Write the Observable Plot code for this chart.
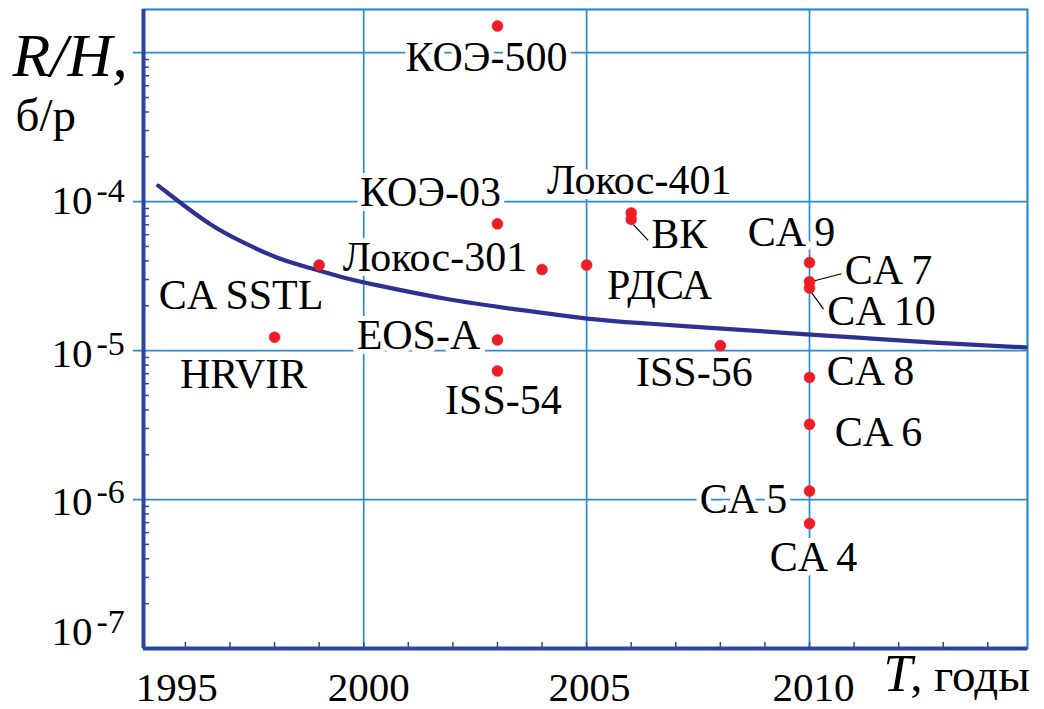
<!DOCTYPE html>
<html><head><meta charset="utf-8">
<script src="https://cdn.jsdelivr.net/npm/d3@7"></script>
<script src="https://cdn.jsdelivr.net/npm/@observablehq/plot@0.6"></script>
<style>
html,body{margin:0;padding:0;background:#fff;}
#chart svg{display:block;}
</style></head><body><div id="chart"></div>
<script>
// ---------- data ----------
const names = ["КОЭ-500","КОЭ-03","Локос-401","ВК","Локос-301","РДСА","EOS-A","ISS-54","CA SSTL","HRVIR","ISS-56","CA 9","CA 7","CA 10","CA 8","CA 6","CA 5","CA 4"];
const years = [2003,2003,2006,2006,2004,2005,2003,2003,1999,1998,2008,2010,2010,2010,2010,2010,2010,2010];
const rhValues = [1.51e-3,7.1e-5,8.4e-5,7.6e-5,3.5e-5,3.75e-5,1.18e-5,7.3e-6,3.75e-5,1.23e-5,1.08e-5,3.9e-5,2.9e-5,2.63e-5,6.6e-6,3.2e-6,1.14e-6,6.9e-7];
const curveYears = [1995.39,1995.80,1996.55,1997.30,1998.05,1998.80,1999.54,2000.37,2001.87,2003.37,2005.01,2006.36,2007.78,2009.05,2010.02,2011.29,2012.79,2014.85];
const curveValues = [1.28e-4,1.03e-4,7.08e-5,5.32e-5,4.22e-5,3.58e-5,3.10e-5,2.72e-5,2.22e-5,1.90e-5,1.64e-5,1.52e-5,1.42e-5,1.34e-5,1.28e-5,1.21e-5,1.13e-5,1.05e-5];
const xTicks = [1995,2000,2005,2010];
const yTickExponents = [-4,-5,-6,-7];
const yGridExponents = [-3,-4,-5,-6];

// ---------- layout ----------
const W = 1044, H = 709;
const M = {top: 9, right: 17, bottom: 61, left: 143};
const X0 = 1995.06, X1 = 2014.89, Y0 = 1e-7, Y1 = 1.95e-3;
const labelDx = [-11,-67,8,48,-107,73,-79,6,-78,-31,-26,-18,79,72,61,69,-66,4];
const labelDy = [45,-18,-19,29,1,34,9,43,44,51,40,-17,2,37,8,22,22,47];
const leaders = [ {i:3, a:[2,5], b:[17,21]}, {i:12, a:[5,-1], b:[32,-8]}, {i:13, a:[1,3], b:[14,21]} ];
const xTickDx = [36,5,3,4];
const yTickDy = [12,16,15,-4];

const gridC = "#2a8ad2", axisC = "#2c46a0", curveC = "#2e3191", dotC = "#ee1c25";
const FF = "Liberation Serif";

// mirror scales (for pixel offsets of annotations)
const sx = d3.scaleLinear([X0, X1], [M.left, W - M.right]);
const sy = d3.scaleLog([Y0, Y1], [H - M.bottom, M.top]);

const pts = names.map((n, i) => ({name: n, year: years[i], v: rhValues[i]}));
const labels = pts.map((p, i) => ({
  name: p.name,
  lx: sx.invert(sx(p.year) + labelDx[i]),
  ly: sy.invert(sy(p.v) + labelDy[i])
}));
const leaderData = leaders.map(l => {
  const p = pts[l.i];
  return {
    x1: sx.invert(sx(p.year) + l.a[0]), y1: sy.invert(sy(p.v) + l.a[1]),
    x2: sx.invert(sx(p.year) + l.b[0]), y2: sy.invert(sy(p.v) + l.b[1])
  };
});
const curve = curveYears.map((y, i) => ({year: y, v: curveValues[i]}));

const minorY = [];
for (let k = -7; k <= -3; k++) for (let m = 2; m <= 9; m++) { const v = m * Math.pow(10, k); if (v < Y1) minorY.push(v); }
const minorX = d3.range(1996, 2015);

const yTickData = yTickExponents.map((e, i) => ({v: Math.pow(10, e), e, dy: yTickDy[i]}));

const T = (data, o) => Plot.text(data, {fontFamily: FF, fill: "black", ...o});

const marks = [
  Plot.tickX(xTicks.slice(1), {x: d => d, stroke: gridC, strokeWidth: 1.7}),
  Plot.tickY(yGridExponents.map(e => Math.pow(10, e)), {y: d => d, stroke: gridC, strokeWidth: 1.7, insetLeft: -10}),
  Plot.frame({stroke: gridC, strokeWidth: 2.2}),
  // label halos then labels
  T(labels, {x: "lx", y: "ly", text: "name", textAnchor: "middle", lineAnchor: "bottom",
    fontSize: 42, fill: "white", stroke: "white", strokeWidth: 10, strokeLinejoin: "round"}),
  T(labels, {x: "lx", y: "ly", text: "name", textAnchor: "middle", lineAnchor: "bottom", fontSize: 42}),
  Plot.line(curve, {x: "year", y: "v", stroke: curveC, strokeWidth: 4.2, curve: "natural"}),
  Plot.link(leaderData, {x1: "x1", y1: "y1", x2: "x2", y2: "y2", stroke: "black", strokeWidth: 1.2}),
  Plot.dot(pts, {x: "year", y: "v", r: 5.5, fill: dotC, stroke: dotC, strokeWidth: 0.5}),
  // minor ticks
  Plot.tickY(minorY, {y: d => d, stroke: axisC, strokeWidth: 1.5, insetRight: (W - M.left - M.right) - 6}),
  Plot.tickX(minorX, {x: d => d, stroke: axisC, strokeWidth: 1.5, insetTop: (H - M.top - M.bottom) - 6}),
  // axis lines
  Plot.ruleX([X0], {stroke: axisC, strokeWidth: 4}),
  Plot.ruleY([Y0], {stroke: axisC, strokeWidth: 4, x1: X0, x2: X1})
];
// tick labels (per-tick offsets, separate marks)
yTickData.forEach(d => {
  marks.push(T([d], {x: () => X0, y: "v", text: () => "10", textAnchor: "end", lineAnchor: "bottom",
    dx: -51, dy: d.dy, fontSize: 41}));
  marks.push(T([d], {x: () => X0, y: "v", text: () => String(d.e), textAnchor: "start", lineAnchor: "bottom",
    dx: -47, dy: d.dy - 12, fontSize: 34}));
});
xTicks.forEach((t, i) => {
  marks.push(T([t], {x: d => d, y: () => Y0, text: d => String(d), textAnchor: "middle", lineAnchor: "bottom",
    dx: xTickDx[i], dy: 52, fontSize: 41}));
});
// axis titles
marks.push(
  T(["R/H,"], {frameAnchor: "top-left", text: d => d, textAnchor: "start", lineAnchor: "bottom",
    dx: 12 - M.left, dy: 75 - M.top, fontSize: 62, fontStyle: "italic"}),
  T(["б/р"], {frameAnchor: "top-left", text: d => d, textAnchor: "start", lineAnchor: "bottom",
    dx: 15 - M.left, dy: 130 - M.top, fontSize: 47}),
  T(["T"], {frameAnchor: "top-left", text: d => d, textAnchor: "start", lineAnchor: "bottom",
    dx: 883 - M.left, dy: 690 - M.top, fontSize: 52, fontStyle: "italic"}),
  T([", годы"], {frameAnchor: "top-left", text: d => d, textAnchor: "start", lineAnchor: "bottom",
    dx: 910 - M.left, dy: 690 - M.top, fontSize: 47})
);

const chart = Plot.plot({
  width: W, height: H,
  marginTop: M.top, marginRight: M.right, marginBottom: M.bottom, marginLeft: M.left,
  x: {domain: [X0, X1], axis: null},
  y: {type: "log", domain: [Y0, Y1], axis: null},
  style: {background: "white", overflow: "visible"},
  marks
});
document.getElementById("chart").appendChild(chart);
</script>
</body></html>
